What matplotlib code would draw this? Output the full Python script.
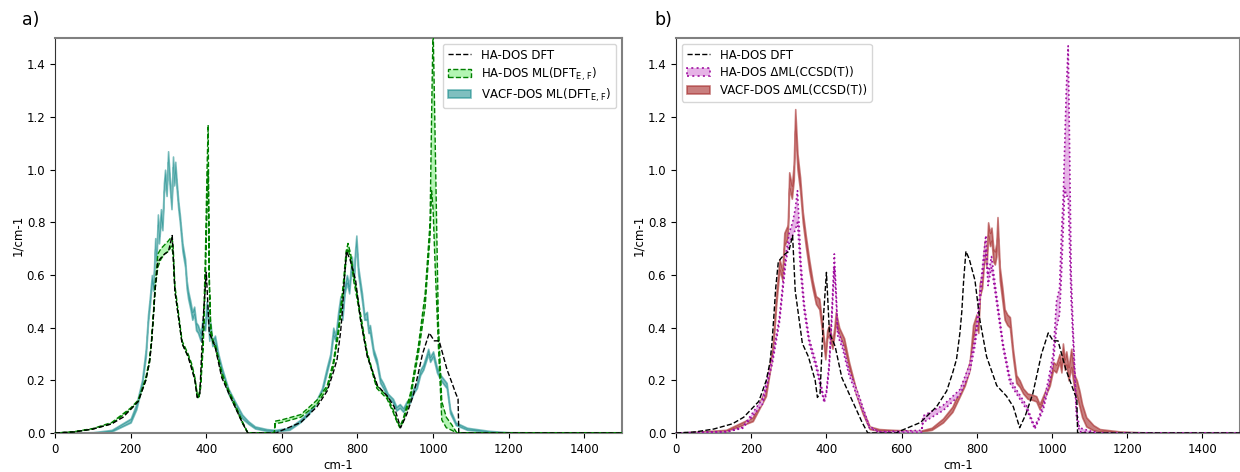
import matplotlib
matplotlib.use('Agg')
import matplotlib.pyplot as plt

plt.rcParams['font.size'] = 8.5

# HA-DOS DFT (same reference curve in both panels)
dft_x = [0, 50, 100, 150, 180, 200, 220, 240, 250, 255, 260, 265, 272, 280, 290, 300, 310, 317, 336, 352, 362,
         370, 376, 383, 392, 400, 408, 423, 441, 460, 476, 495, 510, 585, 600, 650, 693, 720, 736, 746, 755, 760,
         765, 771, 780, 795, 808, 826, 853, 879, 897, 914, 930, 949, 972, 990, 1003, 1016, 1037, 1050, 1060,
         1066, 1068, 1500]
dft_y = [0, 0.004, 0.015, 0.035, 0.06, 0.09, 0.12, 0.2, 0.27, 0.34, 0.44, 0.55, 0.65, 0.665, 0.68, 0.69, 0.75,
         0.54, 0.34, 0.29, 0.24, 0.2, 0.135, 0.15, 0.44, 0.61, 0.38, 0.33, 0.21, 0.15, 0.1, 0.04, 0.0, 0.0, 0.01,
         0.04, 0.1, 0.16, 0.23, 0.28, 0.38, 0.46, 0.58, 0.69, 0.66, 0.58, 0.43, 0.29, 0.18, 0.14, 0.1, 0.02, 0.07,
         0.15, 0.3, 0.38, 0.35, 0.35, 0.24, 0.19, 0.15, 0.13, 0.0, 0.0]

# HA-DOS ML(DFT_E,F) band
grn_x = [0, 50, 100, 150, 200, 220, 240, 250, 255, 260, 265, 272, 280, 290, 300, 308, 312, 317, 336, 352, 362,
         370, 376, 380, 385, 392, 398, 402, 405, 408, 412, 418, 425, 441, 460, 476, 495, 510, 580, 582, 600, 650,
         693, 720, 736, 750, 762, 770, 775, 782, 790, 800, 812, 825, 851, 878, 894, 905, 912, 920, 940, 961, 979,
         992, 996, 1000, 1005, 1014, 1023, 1035, 1050, 1063, 1500]
grn_lo = [0, 0.004, 0.015, 0.035, 0.09, 0.12, 0.2, 0.27, 0.34, 0.44, 0.55, 0.63, 0.66, 0.68, 0.69, 0.71, 0.68,
          0.54, 0.34, 0.29, 0.25, 0.2, 0.14, 0.13, 0.17, 0.33, 0.6, 0.85, 1.0, 0.55, 0.38, 0.34, 0.32, 0.22, 0.15,
          0.1, 0.04, 0.0, 0.0, 0.035, 0.04, 0.06, 0.11, 0.17, 0.25, 0.38, 0.53, 0.66, 0.7, 0.66, 0.58, 0.5, 0.4,
          0.3, 0.17, 0.13, 0.08, 0.04, 0.02, 0.04, 0.13, 0.3, 0.48, 0.75, 0.92, 0.85, 0.65, 0.33, 0.05, 0.02, 0.01,
          0.0, 0]
grn_hi = [0, 0.005, 0.017, 0.04, 0.095, 0.125, 0.21, 0.28, 0.35, 0.45, 0.57, 0.68, 0.7, 0.715, 0.73, 0.745, 0.72,
          0.56, 0.35, 0.3, 0.26, 0.21, 0.15, 0.14, 0.19, 0.36, 0.7, 1.0, 1.17, 0.6, 0.4, 0.35, 0.33, 0.23, 0.16,
          0.11, 0.045, 0.0, 0.0, 0.045, 0.05, 0.07, 0.125, 0.18, 0.27, 0.4, 0.56, 0.69, 0.72, 0.68, 0.6, 0.52, 0.42,
          0.31, 0.18, 0.14, 0.09, 0.045, 0.025, 0.05, 0.15, 0.33, 0.53, 0.8, 1.2, 1.55, 1.15, 0.42, 0.12, 0.06, 0.03,
          0.0, 0]

# VACF-DOS ML(DFT_E,F) band
tl_x = [0, 100, 150, 200, 215, 230, 240, 246, 251, 256, 260, 265, 268, 272, 275, 280, 284, 288, 291, 295, 299,
        303, 308, 312, 315, 318, 322, 326, 330, 337, 344, 348, 352, 358, 363, 368, 373, 378, 385, 390, 397, 401,
        404, 408, 411, 416, 423, 432, 441, 458, 476, 495, 511, 529, 560, 582, 620, 648, 670, 693, 706, 719, 728,
        736, 742, 749, 755, 760, 766, 772, 778, 785, 790, 794, 797, 802, 807, 812, 818, 825, 829, 833, 842, 851,
        860, 868, 880, 894, 903, 912, 921, 930, 939, 948, 957, 966, 974, 983, 987, 992, 1000, 1010, 1020, 1036,
        1045, 1060, 1090, 1150, 1200, 1500]
tl_hi = [0, 0.003, 0.012, 0.055, 0.11, 0.2, 0.32, 0.45, 0.52, 0.6, 0.57, 0.74, 0.68, 0.83, 0.75, 0.85, 0.8, 0.95,
         1.0, 0.93, 1.07, 0.98, 0.88, 1.05, 0.97, 1.03, 0.95, 0.88, 0.83, 0.72, 0.66, 0.58, 0.54, 0.5, 0.46, 0.48,
         0.42, 0.41, 0.38, 0.43, 0.42, 0.5, 0.47, 0.38, 0.42, 0.35, 0.37, 0.3, 0.25, 0.17, 0.12, 0.07, 0.045, 0.025,
         0.015, 0.012, 0.02, 0.05, 0.08, 0.13, 0.17, 0.25, 0.3, 0.4, 0.37, 0.46, 0.52, 0.45, 0.56, 0.6, 0.56, 0.67,
         0.6, 0.7, 0.75, 0.63, 0.58, 0.53, 0.45, 0.46, 0.4, 0.41, 0.32, 0.28, 0.21, 0.19, 0.15, 0.13, 0.1, 0.11,
         0.095, 0.12, 0.13, 0.17, 0.19, 0.24, 0.26, 0.3, 0.32, 0.29, 0.31, 0.25, 0.22, 0.19, 0.09, 0.04, 0.02,
         0.008, 0.003, 0]
tl_lo = [0, 0.001, 0.006, 0.04, 0.09, 0.18, 0.29, 0.42, 0.49, 0.57, 0.54, 0.7, 0.65, 0.79, 0.72, 0.81, 0.77, 0.91,
         0.96, 0.9, 1.03, 0.94, 0.85, 1.01, 0.94, 0.99, 0.92, 0.85, 0.8, 0.69, 0.63, 0.55, 0.51, 0.47, 0.43, 0.45,
         0.39, 0.38, 0.35, 0.4, 0.39, 0.46, 0.44, 0.35, 0.39, 0.33, 0.34, 0.28, 0.23, 0.15, 0.1, 0.055, 0.035, 0.017,
         0.008, 0.006, 0.012, 0.04, 0.07, 0.115, 0.155, 0.23, 0.28, 0.37, 0.35, 0.43, 0.49, 0.43, 0.53, 0.57, 0.53,
         0.64, 0.57, 0.67, 0.71, 0.6, 0.55, 0.5, 0.43, 0.43, 0.38, 0.38, 0.3, 0.26, 0.19, 0.17, 0.135, 0.115, 0.085,
         0.095, 0.08, 0.105, 0.115, 0.15, 0.17, 0.22, 0.24, 0.28, 0.3, 0.27, 0.29, 0.23, 0.2, 0.17, 0.075, 0.03,
         0.012, 0.004, 0.001, 0]

# HA-DOS ΔML(CCSD(T)) band
pu_x = [0, 133, 177, 230, 257, 275, 292, 301, 310, 317, 323, 332, 341, 354, 372, 385, 394, 400, 407, 414, 421,
        426, 430, 443, 460, 487, 514, 540, 653, 657, 710, 755, 781, 795, 803, 810, 817, 824, 830, 839, 852, 870,
        888, 905, 932, 944, 954, 965, 977, 990, 1003, 1012, 1020, 1025, 1030, 1034, 1038, 1043, 1047, 1051, 1056,
        1065, 1073, 1100, 1127, 1500]
pu_lo = [0, 0.004, 0.018, 0.11, 0.27, 0.42, 0.65, 0.72, 0.75, 0.77, 0.8, 0.6, 0.46, 0.34, 0.25, 0.17, 0.115, 0.15,
         0.24, 0.42, 0.63, 0.5, 0.37, 0.32, 0.22, 0.12, 0.02, 0.003, 0.003, 0.04, 0.085, 0.145, 0.23, 0.33, 0.42,
         0.52, 0.62, 0.7, 0.56, 0.63, 0.5, 0.32, 0.19, 0.15, 0.09, 0.05, 0.015, 0.05, 0.09, 0.17, 0.26, 0.4, 0.45,
         0.6, 0.78, 0.93, 0.9, 0.9, 0.7, 0.5, 0.35, 0.06, 0.005, 0.002, 0.0, 0]
pu_hi = [0, 0.006, 0.022, 0.13, 0.29, 0.44, 0.68, 0.76, 0.8, 0.85, 0.92, 0.65, 0.49, 0.36, 0.27, 0.19, 0.125, 0.16,
         0.26, 0.45, 0.68, 0.53, 0.39, 0.34, 0.24, 0.14, 0.025, 0.005, 0.01, 0.065, 0.105, 0.165, 0.26, 0.36, 0.46,
         0.56, 0.66, 0.75, 0.6, 0.67, 0.53, 0.34, 0.21, 0.165, 0.105, 0.06, 0.025, 0.06, 0.11, 0.2, 0.3, 0.5, 0.55,
         0.75, 0.9, 1.1, 1.3, 1.47, 1.05, 0.6, 0.4, 0.09, 0.02, 0.008, 0.0, 0]

# VACF-DOS ΔML(CCSD(T)) band
br_x = [0, 133, 204, 239, 257, 266, 275, 283, 288, 297, 301, 308, 313, 317, 323, 330, 337, 345, 354, 363, 372,
        381, 390, 397, 402, 407, 416, 421, 425, 434, 447, 460, 478, 496, 515, 540, 577, 648, 680, 710, 735, 755,
        768, 781, 790, 799, 804, 808, 814, 821, 826, 830, 835, 839, 844, 848, 852, 855, 861, 868, 874, 881, 888,
        896, 905, 914, 923, 935, 949, 958, 967, 976, 985, 994, 1003, 1011, 1020, 1025, 1029, 1034, 1038, 1044,
        1051, 1060, 1066, 1073, 1080, 1091, 1110, 1127, 1180, 1250, 1500]
br_hi = [0, 0.012, 0.06, 0.17, 0.33, 0.52, 0.66, 0.62, 0.76, 0.79, 0.99, 0.94, 1.02, 1.23, 1.06, 0.97, 0.84, 0.75,
         0.66, 0.58, 0.52, 0.51, 0.4, 0.31, 0.39, 0.41, 0.35, 0.4, 0.46, 0.4, 0.36, 0.27, 0.17, 0.09, 0.025, 0.015,
         0.012, 0.008, 0.02, 0.055, 0.1, 0.165, 0.21, 0.27, 0.41, 0.45, 0.42, 0.57, 0.6, 0.73, 0.68, 0.8, 0.76,
         0.78, 0.7, 0.69, 0.72, 0.82, 0.63, 0.55, 0.47, 0.45, 0.44, 0.32, 0.22, 0.2, 0.17, 0.15, 0.145, 0.14, 0.11,
         0.14, 0.17, 0.2, 0.27, 0.26, 0.3, 0.26, 0.34, 0.28, 0.31, 0.25, 0.32, 0.22, 0.2, 0.16, 0.11, 0.06, 0.03,
         0.015, 0.006, 0.002, 0]
br_lo = [0, 0.006, 0.045, 0.14, 0.3, 0.48, 0.62, 0.58, 0.71, 0.74, 0.93, 0.89, 0.96, 1.15, 1.0, 0.92, 0.8, 0.71,
         0.62, 0.55, 0.49, 0.47, 0.37, 0.28, 0.36, 0.37, 0.32, 0.37, 0.42, 0.37, 0.33, 0.25, 0.15, 0.075, 0.015,
         0.008, 0.006, 0.004, 0.012, 0.04, 0.08, 0.14, 0.18, 0.24, 0.36, 0.41, 0.38, 0.52, 0.55, 0.68, 0.63, 0.75,
         0.71, 0.73, 0.65, 0.64, 0.67, 0.76, 0.58, 0.5, 0.43, 0.41, 0.4, 0.29, 0.19, 0.175, 0.15, 0.13, 0.125, 0.12,
         0.09, 0.12, 0.15, 0.18, 0.24, 0.23, 0.27, 0.23, 0.3, 0.24, 0.26, 0.2, 0.25, 0.16, 0.14, 0.1, 0.06, 0.025,
         0.01, 0.006, 0.002, 0.0, 0]

xticks = [0, 200, 400, 600, 800, 1000, 1200, 1400]
yticks = [0.0, 0.2, 0.4, 0.6, 0.8, 1.0, 1.2, 1.4]

fig = plt.figure(figsize=(12.4, 4.72), dpi=100)
ax1 = fig.add_axes([0.0444, 0.0826, 0.4573, 0.8369])
ax2 = fig.add_axes([0.5452, 0.0826, 0.4548, 0.8369])

# panel a
ax1.plot(dft_x, dft_y, color='black', linestyle='--', linewidth=1, label='HA-DOS DFT', zorder=4)
ax1.fill_between(grn_x, grn_lo, grn_hi, facecolor='#b3f5b3', edgecolor='green', linestyle='--',
                 linewidth=1, label=r'HA-DOS ML(DFT$_{\mathrm{E,\,F}}$)', zorder=3)
ax1.fill_between(tl_x, tl_lo, tl_hi, facecolor='teal', edgecolor='teal', alpha=0.5,
                 linewidth=1.2, label=r'VACF-DOS ML(DFT$_{\mathrm{E,\,F}}$)', zorder=2)
ax1.legend(loc='upper right', fontsize=8.5, labelspacing=0.3)

# panel b
ax2.plot(dft_x, dft_y, color='black', linestyle='--', linewidth=1, label='HA-DOS DFT', zorder=4)
ax2.fill_between(pu_x, pu_lo, pu_hi, facecolor='#e6b3e6', edgecolor='#a010a0', linestyle=':',
                 linewidth=1.2, label='HA-DOS ΔML(CCSD(T))', zorder=3)
ax2.fill_between(br_x, br_lo, br_hi, facecolor='brown', edgecolor='brown', alpha=0.6,
                 linewidth=1.2, label='VACF-DOS ΔML(CCSD(T))', zorder=2)
ax2.legend(loc='upper left', fontsize=8.5, labelspacing=0.4)

for ax in (ax1, ax2):
    ax.set_xlim(0, 1500)
    ax.set_ylim(0, 1.5)
    ax.set_xticks(xticks)
    ax.set_yticks(yticks)
    ax.set_xlabel('cm-1', labelpad=2.5)
    ax.set_ylabel('1/cm-1', labelpad=2)
    for side in ('top', 'right', 'bottom'):
        ax.spines[side].set_color('#808080')
        ax.spines[side].set_linewidth(1.5)
    ax.spines['left'].set_color('#333333')

fig.text(0.018, 0.958, 'a)', fontsize=12.5, va='center')
fig.text(0.528, 0.958, 'b)', fontsize=12.5, va='center')

fig.savefig('out.png', dpi=100)
